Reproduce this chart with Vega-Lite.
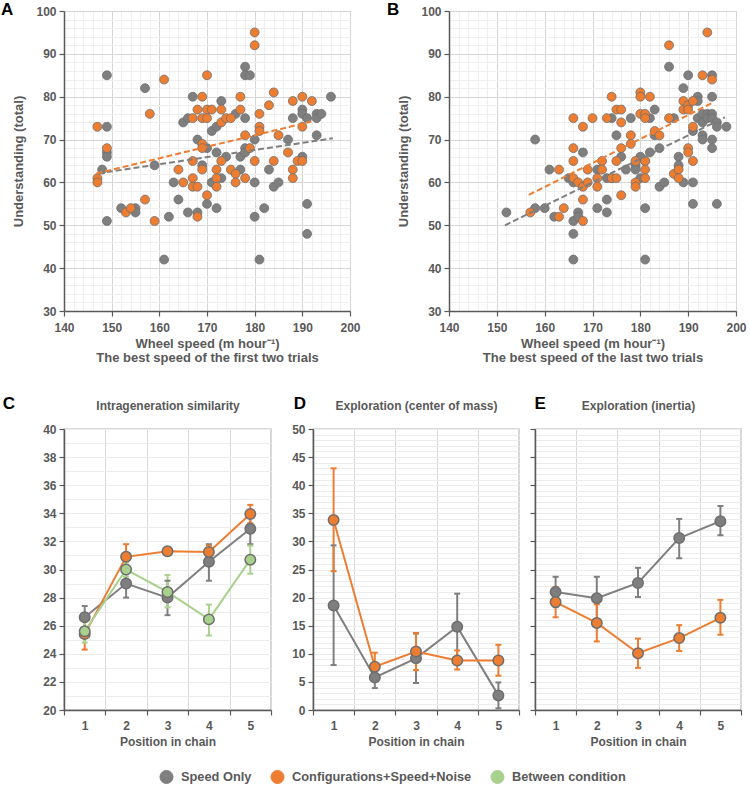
{
"$schema":"https://vega.github.io/schema/vega-lite/v6.json",
"background":"white",
"padding":{"left":0,"top":0,"right":4,"bottom":0},
"config":{
"font":"Liberation Sans",
"axis":{"labelFont":"Liberation Sans","labelFontWeight":"bold","labelFontSize":12,"labelColor":"#595959","titleFont":"Liberation Sans","titleFontWeight":"bold","titleFontSize":13,"titleColor":"#595959","domainColor":"#595959","domainWidth":1.5,"tickColor":"#595959","tickWidth":1.2,"tickSize":5,"labelPadding":3,"labelFlush":false,"labelOverlap":false,"gridColor":"#ebebeb"},
"title":{"font":"Liberation Sans","fontSize":17,"fontWeight":"bold","color":"#000000","anchor":"start","frame":"bounds","offset":0},
"legend":{"orient":"none","direction":"horizontal","legendX":95,"legendY":758,"symbolType":"circle","symbolSize":170,"symbolStrokeColor":"#7f7f7f","symbolStrokeWidth":1,"labelFontSize":12.8,"labelFontWeight":"bold","labelColor":"#595959","labelFont":"Liberation Sans","labelLimit":400,"columnPadding":16,"labelOffset":7}
},
"datasets":{
"scatA":[
{"x":149,"y":85,"c":"SO"},{"x":149,"y":73,"c":"SO"},{"x":149,"y":67,"c":"SO"},{"x":149,"y":66,"c":"SO"},{"x":148,"y":63,"c":"SO"},{"x":149,"y":51,"c":"SO"},{"x":157,"y":82,"c":"SO"},{"x":159,"y":64,"c":"SO"},{"x":152,"y":54,"c":"SO"},{"x":155,"y":54,"c":"SO"},{"x":155,"y":53,"c":"SO"},{"x":161,"y":42,"c":"SO"},{"x":162,"y":52,"c":"SO"},{"x":163,"y":60,"c":"SO"},{"x":164,"y":56,"c":"SO"},{"x":165,"y":74,"c":"SO"},{"x":166,"y":75,"c":"SO"},{"x":166,"y":53,"c":"SO"},{"x":167,"y":80,"c":"SO"},{"x":168,"y":70,"c":"SO"},{"x":168,"y":53,"c":"SO"},{"x":169,"y":64,"c":"SO"},{"x":170,"y":68,"c":"SO"},{"x":170,"y":55,"c":"SO"},{"x":171,"y":72,"c":"SO"},{"x":171,"y":60,"c":"SO"},{"x":172,"y":73,"c":"SO"},{"x":172,"y":67,"c":"SO"},{"x":172,"y":54,"c":"SO"},{"x":173,"y":79,"c":"SO"},{"x":173,"y":61,"c":"SO"},{"x":174,"y":66,"c":"SO"},{"x":176,"y":76,"c":"SO"},{"x":177,"y":66,"c":"SO"},{"x":177,"y":63,"c":"SO"},{"x":178,"y":87,"c":"SO"},{"x":178,"y":85,"c":"SO"},{"x":178,"y":75,"c":"SO"},{"x":178,"y":68,"c":"SO"},{"x":178,"y":67,"c":"SO"},{"x":179,"y":85,"c":"SO"},{"x":180,"y":70,"c":"SO"},{"x":180,"y":60,"c":"SO"},{"x":180,"y":52,"c":"SO"},{"x":181,"y":42,"c":"SO"},{"x":182,"y":54,"c":"SO"},{"x":183,"y":63,"c":"SO"},{"x":184,"y":59,"c":"SO"},{"x":185,"y":60,"c":"SO"},{"x":187,"y":70,"c":"SO"},{"x":188,"y":75,"c":"SO"},{"x":190,"y":77,"c":"SO"},{"x":190,"y":76,"c":"SO"},{"x":190,"y":66,"c":"SO"},{"x":191,"y":75,"c":"SO"},{"x":191,"y":55,"c":"SO"},{"x":191,"y":48,"c":"SO"},{"x":193,"y":76,"c":"SO"},{"x":193,"y":75,"c":"SO"},{"x":193,"y":71,"c":"SO"},{"x":194,"y":76,"c":"SO"},{"x":196,"y":80,"c":"SO"},
{"x":147,"y":73,"c":"CSN"},{"x":147,"y":61,"c":"CSN"},{"x":147,"y":60,"c":"CSN"},{"x":149,"y":68,"c":"CSN"},{"x":153,"y":53,"c":"CSN"},{"x":154,"y":54,"c":"CSN"},{"x":157,"y":56,"c":"CSN"},{"x":158,"y":76,"c":"CSN"},{"x":159,"y":51,"c":"CSN"},{"x":161,"y":84,"c":"CSN"},{"x":164,"y":63,"c":"CSN"},{"x":165,"y":60,"c":"CSN"},{"x":167,"y":75,"c":"CSN"},{"x":167,"y":65,"c":"CSN"},{"x":167,"y":61,"c":"CSN"},{"x":167,"y":59,"c":"CSN"},{"x":168,"y":77,"c":"CSN"},{"x":168,"y":59,"c":"CSN"},{"x":168,"y":52,"c":"CSN"},{"x":169,"y":80,"c":"CSN"},{"x":169,"y":75,"c":"CSN"},{"x":169,"y":69,"c":"CSN"},{"x":169,"y":68,"c":"CSN"},{"x":169,"y":63,"c":"CSN"},{"x":170,"y":85,"c":"CSN"},{"x":170,"y":77,"c":"CSN"},{"x":170,"y":75,"c":"CSN"},{"x":170,"y":57,"c":"CSN"},{"x":171,"y":77,"c":"CSN"},{"x":172,"y":63,"c":"CSN"},{"x":172,"y":61,"c":"CSN"},{"x":172,"y":59,"c":"CSN"},{"x":173,"y":77,"c":"CSN"},{"x":173,"y":74,"c":"CSN"},{"x":173,"y":65,"c":"CSN"},{"x":174,"y":75,"c":"CSN"},{"x":175,"y":75,"c":"CSN"},{"x":175,"y":63,"c":"CSN"},{"x":176,"y":62,"c":"CSN"},{"x":176,"y":60,"c":"CSN"},{"x":177,"y":80,"c":"CSN"},{"x":177,"y":77,"c":"CSN"},{"x":178,"y":71,"c":"CSN"},{"x":178,"y":61,"c":"CSN"},{"x":179,"y":68,"c":"CSN"},{"x":180,"y":95,"c":"CSN"},{"x":180,"y":92,"c":"CSN"},{"x":180,"y":65,"c":"CSN"},{"x":181,"y":76,"c":"CSN"},{"x":181,"y":73,"c":"CSN"},{"x":181,"y":72,"c":"CSN"},{"x":183,"y":78,"c":"CSN"},{"x":184,"y":81,"c":"CSN"},{"x":184,"y":65,"c":"CSN"},{"x":185,"y":71,"c":"CSN"},{"x":187,"y":67,"c":"CSN"},{"x":188,"y":79,"c":"CSN"},{"x":188,"y":63,"c":"CSN"},{"x":188,"y":61,"c":"CSN"},{"x":189,"y":65,"c":"CSN"},{"x":190,"y":80,"c":"CSN"},{"x":190,"y":73,"c":"CSN"},{"x":190,"y":65,"c":"CSN"},{"x":192,"y":79,"c":"CSN"}
],
"scatB":[
{"x":152,"y":53,"c":"SO"},{"x":158,"y":70,"c":"SO"},{"x":158,"y":54,"c":"SO"},{"x":160,"y":54,"c":"SO"},{"x":161,"y":63,"c":"SO"},{"x":162,"y":52,"c":"SO"},{"x":165,"y":61,"c":"SO"},{"x":166,"y":60,"c":"SO"},{"x":166,"y":51,"c":"SO"},{"x":166,"y":48,"c":"SO"},{"x":166,"y":42,"c":"SO"},{"x":167,"y":53,"c":"SO"},{"x":167,"y":52,"c":"SO"},{"x":168,"y":67,"c":"SO"},{"x":171,"y":63,"c":"SO"},{"x":171,"y":54,"c":"SO"},{"x":173,"y":61,"c":"SO"},{"x":173,"y":56,"c":"SO"},{"x":173,"y":53,"c":"SO"},{"x":174,"y":75,"c":"SO"},{"x":174,"y":61,"c":"SO"},{"x":175,"y":71,"c":"SO"},{"x":176,"y":66,"c":"SO"},{"x":177,"y":63,"c":"SO"},{"x":178,"y":75,"c":"SO"},{"x":179,"y":64,"c":"SO"},{"x":179,"y":63,"c":"SO"},{"x":180,"y":66,"c":"SO"},{"x":180,"y":61,"c":"SO"},{"x":181,"y":65,"c":"SO"},{"x":181,"y":54,"c":"SO"},{"x":181,"y":42,"c":"SO"},{"x":182,"y":75,"c":"SO"},{"x":182,"y":67,"c":"SO"},{"x":183,"y":77,"c":"SO"},{"x":183,"y":71,"c":"SO"},{"x":184,"y":68,"c":"SO"},{"x":184,"y":59,"c":"SO"},{"x":185,"y":60,"c":"SO"},{"x":186,"y":87,"c":"SO"},{"x":187,"y":75,"c":"SO"},{"x":188,"y":66,"c":"SO"},{"x":188,"y":64,"c":"SO"},{"x":189,"y":82,"c":"SO"},{"x":189,"y":60,"c":"SO"},{"x":190,"y":85,"c":"SO"},{"x":191,"y":72,"c":"SO"},{"x":191,"y":60,"c":"SO"},{"x":191,"y":55,"c":"SO"},{"x":192,"y":80,"c":"SO"},{"x":192,"y":79,"c":"SO"},{"x":192,"y":75,"c":"SO"},{"x":193,"y":76,"c":"SO"},{"x":193,"y":74,"c":"SO"},{"x":193,"y":71,"c":"SO"},{"x":193,"y":70,"c":"SO"},{"x":194,"y":76,"c":"SO"},{"x":194,"y":75,"c":"SO"},{"x":195,"y":85,"c":"SO"},{"x":195,"y":80,"c":"SO"},{"x":195,"y":76,"c":"SO"},{"x":195,"y":75,"c":"SO"},{"x":195,"y":70,"c":"SO"},{"x":195,"y":68,"c":"SO"},{"x":196,"y":74,"c":"SO"},{"x":196,"y":73,"c":"SO"},{"x":196,"y":55,"c":"SO"},{"x":198,"y":73,"c":"SO"},
{"x":157,"y":53,"c":"CSN"},{"x":163,"y":63,"c":"CSN"},{"x":163,"y":52,"c":"CSN"},{"x":164,"y":54,"c":"CSN"},{"x":166,"y":75,"c":"CSN"},{"x":166,"y":68,"c":"CSN"},{"x":166,"y":65,"c":"CSN"},{"x":166,"y":61,"c":"CSN"},{"x":167,"y":60,"c":"CSN"},{"x":168,"y":73,"c":"CSN"},{"x":168,"y":59,"c":"CSN"},{"x":168,"y":56,"c":"CSN"},{"x":168,"y":51,"c":"CSN"},{"x":169,"y":63,"c":"CSN"},{"x":169,"y":60,"c":"CSN"},{"x":170,"y":75,"c":"CSN"},{"x":171,"y":61,"c":"CSN"},{"x":171,"y":59,"c":"CSN"},{"x":172,"y":65,"c":"CSN"},{"x":172,"y":63,"c":"CSN"},{"x":173,"y":75,"c":"CSN"},{"x":174,"y":80,"c":"CSN"},{"x":174,"y":61,"c":"CSN"},{"x":175,"y":77,"c":"CSN"},{"x":175,"y":65,"c":"CSN"},{"x":175,"y":61,"c":"CSN"},{"x":176,"y":77,"c":"CSN"},{"x":176,"y":74,"c":"CSN"},{"x":176,"y":68,"c":"CSN"},{"x":176,"y":57,"c":"CSN"},{"x":178,"y":71,"c":"CSN"},{"x":178,"y":69,"c":"CSN"},{"x":179,"y":65,"c":"CSN"},{"x":179,"y":60,"c":"CSN"},{"x":179,"y":59,"c":"CSN"},{"x":180,"y":81,"c":"CSN"},{"x":180,"y":80,"c":"CSN"},{"x":180,"y":76,"c":"CSN"},{"x":181,"y":76,"c":"CSN"},{"x":181,"y":75,"c":"CSN"},{"x":181,"y":65,"c":"CSN"},{"x":181,"y":63,"c":"CSN"},{"x":181,"y":61,"c":"CSN"},{"x":182,"y":80,"c":"CSN"},{"x":183,"y":72,"c":"CSN"},{"x":184,"y":71,"c":"CSN"},{"x":186,"y":92,"c":"CSN"},{"x":186,"y":75,"c":"CSN"},{"x":187,"y":62,"c":"CSN"},{"x":188,"y":63,"c":"CSN"},{"x":188,"y":61,"c":"CSN"},{"x":189,"y":79,"c":"CSN"},{"x":189,"y":77,"c":"CSN"},{"x":190,"y":78,"c":"CSN"},{"x":190,"y":77,"c":"CSN"},{"x":190,"y":68,"c":"CSN"},{"x":190,"y":67,"c":"CSN"},{"x":191,"y":79,"c":"CSN"},{"x":191,"y":73,"c":"CSN"},{"x":191,"y":65,"c":"CSN"},{"x":193,"y":85,"c":"CSN"},{"x":194,"y":95,"c":"CSN"},{"x":195,"y":84,"c":"CSN"}
],
"trendA":[{"x":147.1,"y":62.1,"c":"SO"},{"x":196.4,"y":70.3,"c":"SO"},{"x":146.8,"y":62.1,"c":"CSN"},{"x":191.9,"y":74.2,"c":"CSN"}],
"trendB":[{"x":151.7,"y":50.0,"c":"SO"},{"x":197.7,"y":75.2,"c":"SO"},{"x":156.7,"y":57.1,"c":"CSN"},{"x":195.3,"y":78.7,"c":"CSN"}],
"sim":[
{"pos":1,"val":26.6,"lo":25.9,"hi":27.4,"c":"SO"},{"pos":2,"val":29.0,"lo":28.0,"hi":30.0,"c":"SO"},{"pos":3,"val":28.0,"lo":26.75,"hi":29.2,"c":"SO"},{"pos":4,"val":30.55,"lo":29.2,"hi":31.8,"c":"SO"},{"pos":5,"val":32.9,"lo":31.8,"hi":33.9,"c":"SO"},
{"pos":1,"val":25.4,"lo":24.3,"hi":26.4,"c":"CSN"},{"pos":2,"val":30.9,"lo":29.9,"hi":31.8,"c":"CSN"},{"pos":3,"val":31.3,"lo":31.0,"hi":31.6,"c":"CSN"},{"pos":4,"val":31.25,"lo":30.8,"hi":31.7,"c":"CSN"},{"pos":5,"val":33.95,"lo":33.3,"hi":34.6,"c":"CSN"},
{"pos":1,"val":25.6,"lo":24.8,"hi":26.4,"c":"BC"},{"pos":2,"val":30.0,"lo":29.5,"hi":30.5,"c":"BC"},{"pos":3,"val":28.4,"lo":27.3,"hi":29.6,"c":"BC"},{"pos":4,"val":26.45,"lo":25.3,"hi":27.5,"c":"BC"},{"pos":5,"val":30.7,"lo":29.7,"hi":31.7,"c":"BC"}
],
"com":[
{"pos":1,"val":18.6,"lo":8.0,"hi":29.3,"c":"SO"},{"pos":2,"val":5.8,"lo":3.9,"hi":7.7,"c":"SO"},{"pos":3,"val":9.2,"lo":4.8,"hi":13.6,"c":"SO"},{"pos":4,"val":14.8,"lo":8.9,"hi":20.7,"c":"SO"},{"pos":5,"val":2.6,"lo":0.3,"hi":4.9,"c":"SO"},
{"pos":1,"val":33.8,"lo":24.7,"hi":43.0,"c":"CSN"},{"pos":2,"val":7.7,"lo":5.2,"hi":10.2,"c":"CSN"},{"pos":3,"val":10.4,"lo":7.1,"hi":13.7,"c":"CSN"},{"pos":4,"val":8.8,"lo":7.2,"hi":10.6,"c":"CSN"},{"pos":5,"val":8.8,"lo":6.1,"hi":11.6,"c":"CSN"}
],
"inertia":[
{"pos":1,"val":21.0,"lo":18.3,"hi":23.7,"c":"SO"},{"pos":2,"val":19.9,"lo":16.1,"hi":23.7,"c":"SO"},{"pos":3,"val":22.6,"lo":20.1,"hi":25.3,"c":"SO"},{"pos":4,"val":30.6,"lo":27.0,"hi":34.0,"c":"SO"},{"pos":5,"val":33.6,"lo":31.1,"hi":36.3,"c":"SO"},
{"pos":1,"val":19.2,"lo":16.5,"hi":21.9,"c":"CSN"},{"pos":2,"val":15.5,"lo":12.2,"hi":18.8,"c":"CSN"},{"pos":3,"val":10.1,"lo":7.5,"hi":12.7,"c":"CSN"},{"pos":4,"val":12.8,"lo":10.5,"hi":15.1,"c":"CSN"},{"pos":5,"val":16.4,"lo":13.4,"hi":19.6,"c":"CSN"}
]
},
"columns":1,
"align":"none",
"spacing":29,
"concat":[
{"hconcat":[
{"width":286,"height":300,"view":{"stroke":"#c8c8c8"},
"title":{"text":"A","dx":-12,"dy":18},
"encoding":{
"x":{"field":"x","type":"quantitative","scale":{"domain":[140,200],"nice":false,"zero":false},"axis":{"values":[140,142,144,146,148,150,152,154,156,158,160,162,164,166,168,170,172,174,176,178,180,182,184,186,188,190,192,194,196,198,200],"labelExpr":"datum.value % 10 == 0 ? datum.label : ''","tickOpacity":{"condition":{"test":"datum.value % 10 == 0","value":1},"value":0},"gridColor":{"condition":{"test":"datum.value % 10 == 0","value":"#d6d6d6"},"value":"#efefef"},"title":["Wheel speed (m hour⁻¹)","The best speed of the first two trials"],"labelPadding":6,"titlePadding":4,"titleLineHeight":14}},
"y":{"field":"y","type":"quantitative","scale":{"domain":[30,100],"nice":false,"zero":false},"axis":{"values":[30,32,34,36,38,40,42,44,46,48,50,52,54,56,58,60,62,64,66,68,70,72,74,76,78,80,82,84,86,88,90,92,94,96,98,100],"labelExpr":"datum.value % 10 == 0 ? datum.label : ''","tickOpacity":{"condition":{"test":"datum.value % 10 == 0","value":1},"value":0},"gridColor":{"condition":{"test":"datum.value % 10 == 0","value":"#d6d6d6"},"value":"#efefef"},"title":"Understanding (total)","titlePadding":10}}},
"layer":[
{"data":{"name":"scatA"},"mark":{"type":"point","filled":true,"size":80,"stroke":"#6e6e6e","strokeWidth":0.8,"opacity":1},
"encoding":{"fill":{"field":"c","type":"nominal","scale":{"domain":["SO","CSN","BC"],"range":["#7f7f7f","#ED7D31","#A9D18E"]}}}},
{"data":{"name":"trendA"},"mark":{"type":"line","strokeDash":[6,3],"strokeWidth":2},
"encoding":{"stroke":{"field":"c","type":"nominal","scale":{"domain":["SO","CSN","BC"],"range":["#7f7f7f","#ED7D31","#A9D18E"]},"legend":null}}}
]},
{"width":287,"height":300,"view":{"stroke":"#c8c8c8"},
"title":{"text":"B","dx":-11,"dy":18},
"encoding":{
"x":{"field":"x","type":"quantitative","scale":{"domain":[140,200],"nice":false,"zero":false},"axis":{"values":[140,142,144,146,148,150,152,154,156,158,160,162,164,166,168,170,172,174,176,178,180,182,184,186,188,190,192,194,196,198,200],"labelExpr":"datum.value % 10 == 0 ? datum.label : ''","tickOpacity":{"condition":{"test":"datum.value % 10 == 0","value":1},"value":0},"gridColor":{"condition":{"test":"datum.value % 10 == 0","value":"#d6d6d6"},"value":"#efefef"},"title":["Wheel speed (m hour⁻¹)","The best speed of the last two trials"],"labelPadding":6,"titlePadding":4,"titleLineHeight":14}},
"y":{"field":"y","type":"quantitative","scale":{"domain":[30,100],"nice":false,"zero":false},"axis":{"values":[30,32,34,36,38,40,42,44,46,48,50,52,54,56,58,60,62,64,66,68,70,72,74,76,78,80,82,84,86,88,90,92,94,96,98,100],"labelExpr":"datum.value % 10 == 0 ? datum.label : ''","tickOpacity":{"condition":{"test":"datum.value % 10 == 0","value":1},"value":0},"gridColor":{"condition":{"test":"datum.value % 10 == 0","value":"#d6d6d6"},"value":"#efefef"},"title":"Understanding (total)","titlePadding":10}}},
"layer":[
{"data":{"name":"scatB"},"mark":{"type":"point","filled":true,"size":80,"stroke":"#6e6e6e","strokeWidth":0.8,"opacity":1},
"encoding":{"fill":{"field":"c","type":"nominal"}}},
{"data":{"name":"trendB"},"mark":{"type":"line","strokeDash":[6,3],"strokeWidth":2},
"encoding":{"stroke":{"field":"c","type":"nominal","legend":null}}}
]}
],"spacing":25},
{"hconcat":[
{"width":207,"height":281,"view":{"stroke":"#6e6e6e","strokeWidth":1.2},
"title":{"text":"C","dx":-40,"dy":18},
"data":{"name":"sim"},
"resolve":{"axis":{"x":"independent","y":"independent"}},
"layer":[
{"mark":{"type":"rule","strokeWidth":2},
"encoding":{
"x":{"field":"pos","type":"quantitative","scale":{"domain":[0.5,5.5],"nice":false,"zero":false},"axis":{"orient":"bottom","values":[0.5,1,1.5,2,2.5,3,3.5,4,4.5,5,5.5],"labelExpr":"datum.value % 1 == 0 ? '' + datum.value : ''","tickOpacity":{"condition":{"test":"datum.value % 1 == 0","value":0},"value":1},"gridOpacity":{"condition":{"test":"datum.value % 1 == 0","value":0},"value":1},"gridColor":"#d9d9d9","title":"Position in chain","titleFontSize":12,"titlePadding":5,"labelPadding":5}},
"y":{"field":"lo","type":"quantitative","scale":{"domain":[20,40],"nice":false,"zero":false},"axis":{"orient":"left","values":[20,22,24,26,28,30,32,34,36,38,40],"grid":false,"title":null}},
"y2":{"field":"hi"},
"stroke":{"field":"c","type":"nominal","legend":null}}},
{"mark":{"type":"point","shape":"stroke","size":36,"strokeWidth":2,"opacity":1},
"encoding":{"x":{"field":"pos","type":"quantitative","axis":null},"y":{"field":"lo","type":"quantitative","axis":null},"stroke":{"field":"c","type":"nominal","legend":null}}},
{"mark":{"type":"point","shape":"stroke","size":36,"strokeWidth":2,"opacity":1},
"encoding":{"x":{"field":"pos","type":"quantitative","axis":null},"y":{"field":"hi","type":"quantitative","axis":null},"stroke":{"field":"c","type":"nominal","legend":null}}},
{"mark":{"type":"line","strokeWidth":2},
"encoding":{"x":{"field":"pos","type":"quantitative","axis":null},"y":{"field":"val","type":"quantitative","axis":{"orient":"right","values":[20,21,22,23,24,25,26,27,28,29,30,31,32,33,34,35,36,37,38,39,40],"labels":false,"ticks":false,"domain":false,"grid":true,"gridColor":"#ececec","title":null}},"stroke":{"field":"c","type":"nominal","legend":null}}},
{"mark":{"type":"point","filled":true,"size":110,"stroke":"#6e6e6e","strokeWidth":1.5,"opacity":1},
"encoding":{"x":{"field":"pos","type":"quantitative","axis":{"orient":"top","labels":false,"ticks":false,"domain":false,"grid":false,"title":"Intrageneration similarity","titleFontSize":12,"titlePadding":17}},"y":{"field":"val","type":"quantitative","axis":null},"fill":{"field":"c","type":"nominal","legend":{"title":null,"columns":3,"symbolType":"circle","labelExpr":"datum.label == 'SO' ? 'Speed Only' : datum.label == 'CSN' ? 'Configurations+Speed+Noise' : 'Between condition'"}}}}
]},
{"hconcat":[
{"width":206,"height":281,"view":{"stroke":"#6e6e6e","strokeWidth":1.2},
"title":{"text":"D","dx":2,"dy":18},
"data":{"name":"com"},
"resolve":{"axis":{"x":"independent","y":"independent"}},
"layer":[
{"mark":{"type":"rule","strokeWidth":2},
"encoding":{
"x":{"field":"pos","type":"quantitative","scale":{"domain":[0.5,5.5],"nice":false,"zero":false},"axis":{"orient":"bottom","values":[0.5,1,1.5,2,2.5,3,3.5,4,4.5,5,5.5],"labelExpr":"datum.value % 1 == 0 ? '' + datum.value : ''","tickOpacity":{"condition":{"test":"datum.value % 1 == 0","value":0},"value":1},"gridOpacity":{"condition":{"test":"datum.value % 1 == 0","value":0},"value":1},"gridColor":"#d9d9d9","title":"Position in chain","titleFontSize":12,"titlePadding":5,"labelPadding":5}},
"y":{"field":"lo","type":"quantitative","scale":{"domain":[0,50],"nice":false,"zero":false},"axis":{"orient":"left","values":[0,5,10,15,20,25,30,35,40,45,50],"grid":false,"title":null}},
"y2":{"field":"hi"},
"stroke":{"field":"c","type":"nominal","legend":null}}},
{"mark":{"type":"point","shape":"stroke","size":36,"strokeWidth":2,"opacity":1},
"encoding":{"x":{"field":"pos","type":"quantitative","axis":null},"y":{"field":"lo","type":"quantitative","axis":null},"stroke":{"field":"c","type":"nominal","legend":null}}},
{"mark":{"type":"point","shape":"stroke","size":36,"strokeWidth":2,"opacity":1},
"encoding":{"x":{"field":"pos","type":"quantitative","axis":null},"y":{"field":"hi","type":"quantitative","axis":null},"stroke":{"field":"c","type":"nominal","legend":null}}},
{"mark":{"type":"line","strokeWidth":2},
"encoding":{"x":{"field":"pos","type":"quantitative","axis":null},"y":{"field":"val","type":"quantitative","axis":{"orient":"right","values":[0,1,2,3,4,5,6,7,8,9,10,11,12,13,14,15,16,17,18,19,20,21,22,23,24,25,26,27,28,29,30,31,32,33,34,35,36,37,38,39,40,41,42,43,44,45,46,47,48,49,50],"labels":false,"ticks":false,"domain":false,"grid":true,"gridColor":"#ececec","title":null}},"stroke":{"field":"c","type":"nominal","legend":null}}},
{"mark":{"type":"point","filled":true,"size":110,"stroke":"#6e6e6e","strokeWidth":1.5,"opacity":1},
"encoding":{"x":{"field":"pos","type":"quantitative","axis":{"orient":"top","labels":false,"ticks":false,"domain":false,"grid":false,"title":"Exploration (center of mass)","titleFontSize":12,"titlePadding":17}},"y":{"field":"val","type":"quantitative","axis":null},"fill":{"field":"c","type":"nominal"}}}
]},
{"width":206,"height":281,"view":{"stroke":"#6e6e6e","strokeWidth":1.2},
"title":{"text":"E","dx":5,"dy":18},
"data":{"name":"inertia"},
"resolve":{"axis":{"x":"independent","y":"independent"}},
"layer":[
{"mark":{"type":"rule","strokeWidth":2},
"encoding":{
"x":{"field":"pos","type":"quantitative","scale":{"domain":[0.5,5.5],"nice":false,"zero":false},"axis":{"orient":"bottom","values":[0.5,1,1.5,2,2.5,3,3.5,4,4.5,5,5.5],"labelExpr":"datum.value % 1 == 0 ? '' + datum.value : ''","tickOpacity":{"condition":{"test":"datum.value % 1 == 0","value":0},"value":1},"gridOpacity":{"condition":{"test":"datum.value % 1 == 0","value":0},"value":1},"gridColor":"#d9d9d9","title":"Position in chain","titleFontSize":12,"titlePadding":5,"labelPadding":5}},
"y":{"field":"lo","type":"quantitative","scale":{"domain":[0,50],"nice":false,"zero":false},"axis":{"orient":"left","values":[0,5,10,15,20,25,30,35,40,45,50],"labels":false,"grid":false,"title":null}},
"y2":{"field":"hi"},
"stroke":{"field":"c","type":"nominal","legend":null}}},
{"mark":{"type":"point","shape":"stroke","size":36,"strokeWidth":2,"opacity":1},
"encoding":{"x":{"field":"pos","type":"quantitative","axis":null},"y":{"field":"lo","type":"quantitative","axis":null},"stroke":{"field":"c","type":"nominal","legend":null}}},
{"mark":{"type":"point","shape":"stroke","size":36,"strokeWidth":2,"opacity":1},
"encoding":{"x":{"field":"pos","type":"quantitative","axis":null},"y":{"field":"hi","type":"quantitative","axis":null},"stroke":{"field":"c","type":"nominal","legend":null}}},
{"mark":{"type":"line","strokeWidth":2},
"encoding":{"x":{"field":"pos","type":"quantitative","axis":null},"y":{"field":"val","type":"quantitative","axis":{"orient":"right","values":[0,1,2,3,4,5,6,7,8,9,10,11,12,13,14,15,16,17,18,19,20,21,22,23,24,25,26,27,28,29,30,31,32,33,34,35,36,37,38,39,40,41,42,43,44,45,46,47,48,49,50],"labels":false,"ticks":false,"domain":false,"grid":true,"gridColor":"#ececec","title":null}},"stroke":{"field":"c","type":"nominal","legend":null}}},
{"mark":{"type":"point","filled":true,"size":110,"stroke":"#6e6e6e","strokeWidth":1.5,"opacity":1},
"encoding":{"x":{"field":"pos","type":"quantitative","axis":{"orient":"top","labels":false,"ticks":false,"domain":false,"grid":false,"title":"Exploration (inertia)","titleFontSize":12,"titlePadding":17}},"y":{"field":"val","type":"quantitative","axis":null},"fill":{"field":"c","type":"nominal"}}}
]}
],"spacing":7}
],"spacing":18}
]
}
